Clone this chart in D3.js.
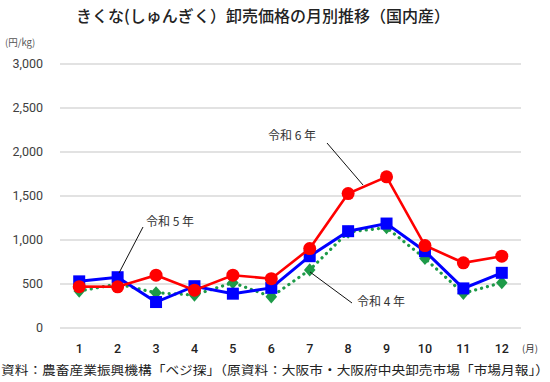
<!DOCTYPE html>
<html>
<head>
<meta charset="utf-8">
<script src="https://cdn.jsdelivr.net/npm/d3@7"></script>
<style>
  body { margin: 0; background: #fff; }
  svg { font-family: "Noto Sans CJK JP", "Noto Sans", sans-serif; }
</style>
</head>
<body>
<svg id="chart" width="550" height="382"></svg>
<script>
// Monthly wholesale price of shungiku (yen/kg).
var months = ['1', '2', '3', '4', '5', '6', '7', '8', '9', '10', '11', '12'];
var r4Values = [420, 500, 400, 375, 515, 355, 660, 1090, 1140, 790, 395, 515];
var r5Values = [530, 577, 295, 475, 390, 456, 816, 1100, 1187, 873, 450, 627];
var r6Values = [470, 468, 600, 430, 600, 560, 903, 1528, 1718, 937, 741, 816];
var yTicks = [0, 500, 1000, 1500, 2000, 2500, 3000];

var svg = d3.select('#chart');
var margin = { left: 60, right: 29, top: 64, bottom: 54 };
var width = 550 - margin.left - margin.right;
var height = 382 - margin.top - margin.bottom;

var x = d3.scaleBand().domain(months).range([margin.left, margin.left + width]);
var y = d3.scaleLinear().domain([0, 3000]).range([margin.top + height, margin.top]);
var cx = function(d, i) { return x(months[i]) + x.bandwidth() / 2; };

// Title
svg.append('text')
  .attr('x', 263).attr('y', 22)
  .attr('text-anchor', 'middle')
  .attr('font-size', 16).attr('font-weight', 500)
  .attr('fill', '#222')
  .text('きくな(しゅんぎく）卸売価格の月別推移（国内産）');

svg.append('text')
  .attr('x', 5).attr('y', 46)
  .attr('font-size', 9.5).attr('fill', '#555')
  .text('(円/kg)');

// Gridlines and y axis labels
svg.append('g')
  .selectAll('line')
  .data(yTicks)
  .enter().append('line')
    .attr('x1', margin.left).attr('x2', margin.left + width)
    .attr('y1', function(d) { return y(d); })
    .attr('y2', function(d) { return y(d); })
    .attr('stroke', '#d9d9d9').attr('stroke-width', 1.3);

svg.append('g')
  .selectAll('text')
  .data(yTicks)
  .enter().append('text')
    .attr('x', 43)
    .attr('y', function(d) { return y(d); })
    .attr('dy', '0.35em')
    .attr('text-anchor', 'end')
    .attr('font-size', 12.5).attr('fill', '#404040')
    .attr('font-family', 'Roboto, "Liberation Sans", sans-serif')
    .text(d3.format(','));

// X axis labels
svg.append('g')
  .selectAll('text')
  .data(months)
  .enter().append('text')
    .attr('x', function(d) { return x(d) + x.bandwidth() / 2; })
    .attr('y', 353)
    .attr('text-anchor', 'middle')
    .attr('font-size', 12.5).attr('font-weight', 500).attr('fill', '#222')
    .attr('font-family', 'Roboto, "Liberation Sans", sans-serif')
    .text(function(d) { return d; });

svg.append('text')
  .attr('x', 522).attr('y', 352)
  .attr('font-size', 9.5).attr('fill', '#333')
  .text('(月)');

// Series lines
var line = d3.line().x(cx).y(function(d) { return y(d); });

svg.append('path').datum(r4Values)
  .attr('d', line).attr('fill', 'none')
  .attr('stroke', '#1d9a48').attr('stroke-width', 3.2)
  .attr('stroke-linecap', 'round').attr('stroke-dasharray', '0.1 6');

svg.selectAll('.r4')
  .data(r4Values)
  .enter().append('path')
    .attr('class', 'r4')
    .attr('d', d3.symbol().type(d3.symbolDiamond2).size(85))
    .attr('transform', function(d, i) { return 'translate(' + cx(d, i) + ',' + y(d) + ') scale(1,1.15)'; })
    .attr('fill', '#1d9a48');

svg.append('path').datum(r5Values)
  .attr('d', line).attr('fill', 'none')
  .attr('stroke', '#0000ff').attr('stroke-width', 3);

svg.selectAll('.r5')
  .data(r5Values)
  .enter().append('rect')
    .attr('class', 'r5')
    .attr('x', function(d, i) { return cx(d, i) - 6; })
    .attr('y', function(d) { return y(d) - 6; })
    .attr('width', 12).attr('height', 12)
    .attr('fill', '#0000ff');

svg.append('path').datum(r6Values)
  .attr('d', line).attr('fill', 'none')
  .attr('stroke', '#ff0000').attr('stroke-width', 2.6);

svg.selectAll('.r6')
  .data(r6Values)
  .enter().append('circle')
    .attr('class', 'r6')
    .attr('cx', cx)
    .attr('cy', function(d) { return y(d); })
    .attr('r', 6.5)
    .attr('fill', '#ff0000');

// Series labels with leader lines
var labels = [
  { text: '令和 6 年', tx: 268, ty: 140, x1: 327, y1: 143, x2: 363, y2: 185 },
  { text: '令和 5 年', tx: 146, ty: 226, x1: 143, y1: 227, x2: 119, y2: 273 },
  { text: '令和 4 年', tx: 357, ty: 306, x1: 352, y1: 303, x2: 310, y2: 272 }
];
labels.forEach(function(l) {
  svg.append('line')
    .attr('x1', l.x1).attr('y1', l.y1).attr('x2', l.x2).attr('y2', l.y2)
    .attr('stroke', '#111').attr('stroke-width', 1);
  svg.append('text')
    .attr('x', l.tx).attr('y', l.ty)
    .attr('font-size', 12).attr('fill', '#333')
    .text(l.text);
});

// Source
svg.append('text')
  .attr('x', 1).attr('y', 375)
  .attr('font-size', 12.5).attr('fill', '#222')
  .attr('textLength', 548).attr('lengthAdjust', 'spacingAndGlyphs')
  .text('資料：農畜産業振興機構「ベジ探」（原資料：大阪市・大阪府中央卸売市場「市場月報」）');
</script>
</body>
</html>
